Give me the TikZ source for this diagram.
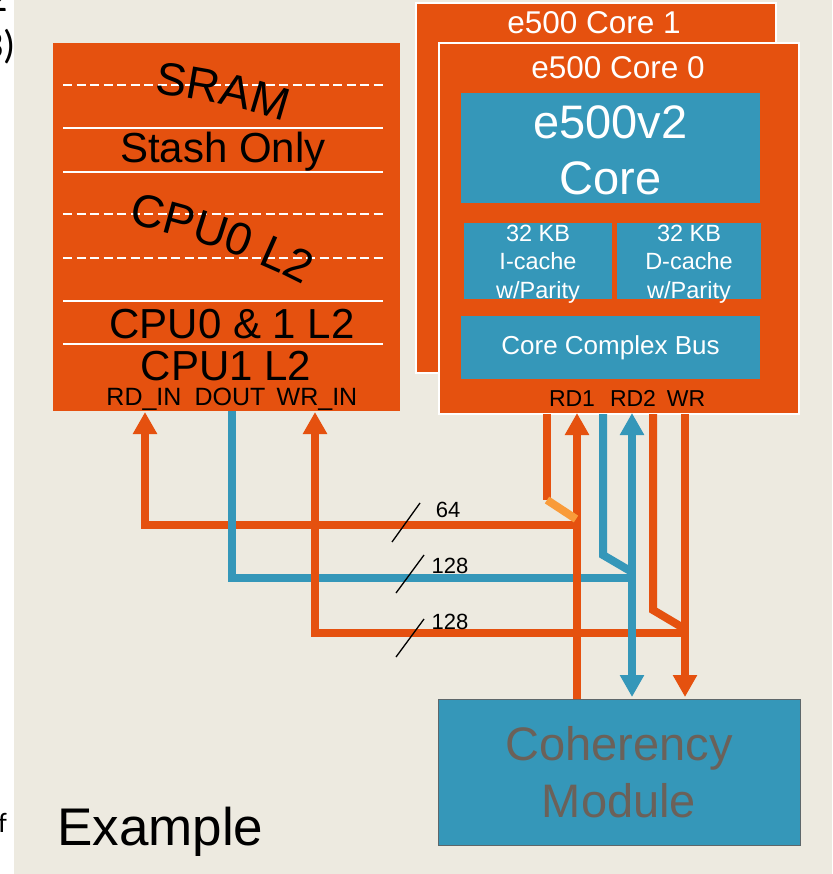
\documentclass[tikz,border=0pt]{standalone}
\usepackage{fontspec}
\setmainfont{Liberation Sans}
\newfontfamily\cutfont{Carlito}
\usetikzlibrary{arrows.meta,decorations.text}
\definecolor{bg}{HTML}{EDEAE0}
\definecolor{org}{HTML}{E5510F}
\definecolor{blu}{HTML}{3597B9}
\definecolor{lorg}{HTML}{F99B3A}
\definecolor{cmtext}{HTML}{6B6159}
\definecolor{cmborder}{HTML}{5E676A}
\newcommand{\fsz}[2]{\fontsize{#1}{#2}\selectfont}
\begin{document}
\begin{tikzpicture}[x=1pt,y=-1pt,
  box/.style={rectangle, inner sep=0pt, outer sep=0pt},
  sramstyle/.style={box, fill=org},
  corebox/.style={box, fill=org, draw=white, line width=2pt},
  bluebox/.style={box, fill=blu},
  wline/.style={white, line width=2pt},
  wdash/.style={white, line width=2pt, dash pattern=on 9pt off 4.5pt},
  bigtxt/.style={font=\fsz{42}{50}, text=black, inner sep=0pt},
  porttxt/.style={font=\fsz{25}{30}, text=black, inner sep=0pt, anchor=base},
  celltext/.style={font=\fsz{23.5}{28.5}, text=white, align=center, inner sep=0pt},
  coretitle/.style={font=\fsz{31.5}{36}, text=white, inner sep=0pt},
  obus/.style={org, line width=8pt},
  bbus/.style={blu, line width=8pt},
  lobus/.style={lorg, line width=8pt},
  tip/.tip={Triangle[width=23pt,length=22pt]},
  slashmark/.style={black, line width=1.3pt},
  widthtxt/.style={font=\fsz{22}{26}, text=black, inner sep=0pt},
  arctext/.style={decorate, decoration={text along path, text align=center, text={#1}}}
]
\useasboundingbox (0,0) rectangle (832,874);
\fill[white] (0,0) rectangle (832,874);
\fill[bg] (14,0) rectangle (832,874);
% clipped slide text at the far left
\begin{scope}
\clip (0,0) rectangle (14,874);
\node[anchor=base east, font=\cutfont\fsz{40}{48}, inner sep=0pt] (cutA) at (8,12) {2};
\node[anchor=base east, font=\cutfont\fsz{40}{48}, inner sep=0pt] (cutB) at (16,59) {3)};
\node[anchor=base east, font=\cutfont\fsz{28}{34}, inner sep=0pt] (cutC) at (7,832) {f};
\end{scope}

% SRAM / L2 block
\node[sramstyle, minimum width=347pt, minimum height=368pt] (sram) at (226.5,227) {};
\draw[wdash] (63,85) -- (383,85);
\draw[wline] (63,128) -- (383,128);
\draw[wline] (63,172) -- (383,172);
\draw[wdash] (63,214) -- (383,214);
\draw[wdash] (63,258) -- (383,258);
\draw[wline] (63,301) -- (383,301);
\draw[wline] (63,344) -- (383,344);
\path[arctext={|\fsz{46}{50}|SRAM}] (138,92) .. controls (194,98) and (248,107) .. (300,127);
\node[bigtxt] (tstash) at (223,152) {Stash Only};
\path[arctext={|\fsz{46}{50}|CPU0 L2}] (112,221) .. controls (178,233) and (250,255) .. (318,293);
\node[bigtxt] (tcpu01) at (232,324) {CPU0 \& 1 L2};
\node[bigtxt] (tcpu1) at (226,366) {CPU1 L2};
\node[porttxt] (lrdin) at (144,405) {RD\_IN};
\node[porttxt] (ldout) at (230,405) {DOUT};
\node[porttxt] (lwrin) at (317,405) {WR\_IN};

% Core 1 (behind) and Core 0
\node[corebox, minimum width=360pt, minimum height=370pt] (core1) at (596,188) {};
\node[coretitle] (tcore1) at (594,23) {e500 Core 1};
\node[corebox, minimum width=360pt, minimum height=371pt] (core0) at (619,228.5) {};
\node[coretitle] (tcore0) at (618,68) {e500 Core 0};
\node[bluebox, minimum width=299pt, minimum height=110pt] (cpu) at (610.5,148) {};
\node[font=\fsz{47}{56}, text=white, align=center, inner sep=0pt] (tcpu) at (610.5,150) {e500v2\\Core};
\node[bluebox, minimum width=148pt, minimum height=76pt] (icache) at (538,261) {};
\node[bluebox, minimum width=144pt, minimum height=76pt] (dcache) at (689,261) {};
\node[celltext] (ticache) at (538,264) {32 KB\\I-cache\\w/Parity};
\node[celltext] (tdcache) at (689,264) {32 KB\\D-cache\\w/Parity};
\node[bluebox, minimum width=299pt, minimum height=63pt, font=\fsz{26}{31}, text=white] (ccb) at (610.5,347.5) {Core Complex Bus};
\node[font=\fsz{23}{28}, text=black, inner sep=0pt, anchor=base] (lrd1) at (572,406) {RD1};
\node[font=\fsz{23}{28}, text=black, inner sep=0pt, anchor=base] (lrd2) at (633,406) {RD2};
\node[font=\fsz{23}{28}, text=black, inner sep=0pt, anchor=base] (lwr) at (686,406) {WR};

% Coherency module
\node[box, fill=blu, draw=cmborder, line width=1pt, minimum width=362pt, minimum height=146pt,
      font=\fsz{47}{57}, text=cmtext, align=center] (cm) at (619,772) {Coherency\\Module};

% port coordinates
\coordinate (pRDIN) at (145,412);
\coordinate (pDOUT) at (232,411);
\coordinate (pWRIN) at (315,412);
\coordinate (pA) at (547,414);
\coordinate (pRD1) at (577,413);
\coordinate (pC) at (603,414);
\coordinate (pRD2) at (632,413);
\coordinate (pE) at (653,414);
\coordinate (pWR) at (685,414);
\coordinate (j64) at (579,525);
\coordinate (jD) at (634,578);
\coordinate (jW) at (687,633);
\coordinate (aBend) at (547,500);
\coordinate (aJoin) at (576,519);
\coordinate (cBend) at (603,555);
\coordinate (cJoin) at (632,572);
\coordinate (eBend) at (653,610);
\coordinate (eJoin) at (685,629);
\coordinate (cmB) at (577,699);
\coordinate (cmD) at (632,697);
\coordinate (cmF) at (685,697);

% horizontal buses to the SRAM block
\draw[obus, -tip] (j64) -| (pRDIN);
\draw[bbus] (jD) -| (pDOUT);
\draw[obus, -tip] (jW) -| (pWRIN);

% verticals to the coherency module
\draw[obus, -tip] (cmB) -- (pRD1);
\draw[bbus, tip-tip] (pRD2) -- (cmD);
\draw[obus, -tip] (pWR) -- (cmF);

% branch lines from the core
\draw[obus] (pA) -- (aBend);
\draw[lobus] (aBend) -- (aJoin);
\draw[bbus] (pC) -- (cBend) -- (cJoin);
\draw[obus] (pE) -- (eBend) -- (eJoin);

% width marks
\coordinate (s1a) at (392,542); \coordinate (s1b) at (420,503);
\coordinate (s2a) at (396,593); \coordinate (s2b) at (424,555);
\coordinate (s3a) at (396,657); \coordinate (s3b) at (424,619);
\draw[slashmark] (s1a) -- (s1b);
\draw[slashmark] (s2a) -- (s2b);
\draw[slashmark] (s3a) -- (s3b);
\node[widthtxt] (w64) at (448,510) {64};
\node[widthtxt] (w128a) at (450,566) {128};
\node[widthtxt] (w128b) at (450,622) {128};

% caption
\node[anchor=base west, font=\fsz{53}{60}, text=black, inner sep=0pt] (example) at (57,845) {Example};
\end{tikzpicture}
\end{document}
